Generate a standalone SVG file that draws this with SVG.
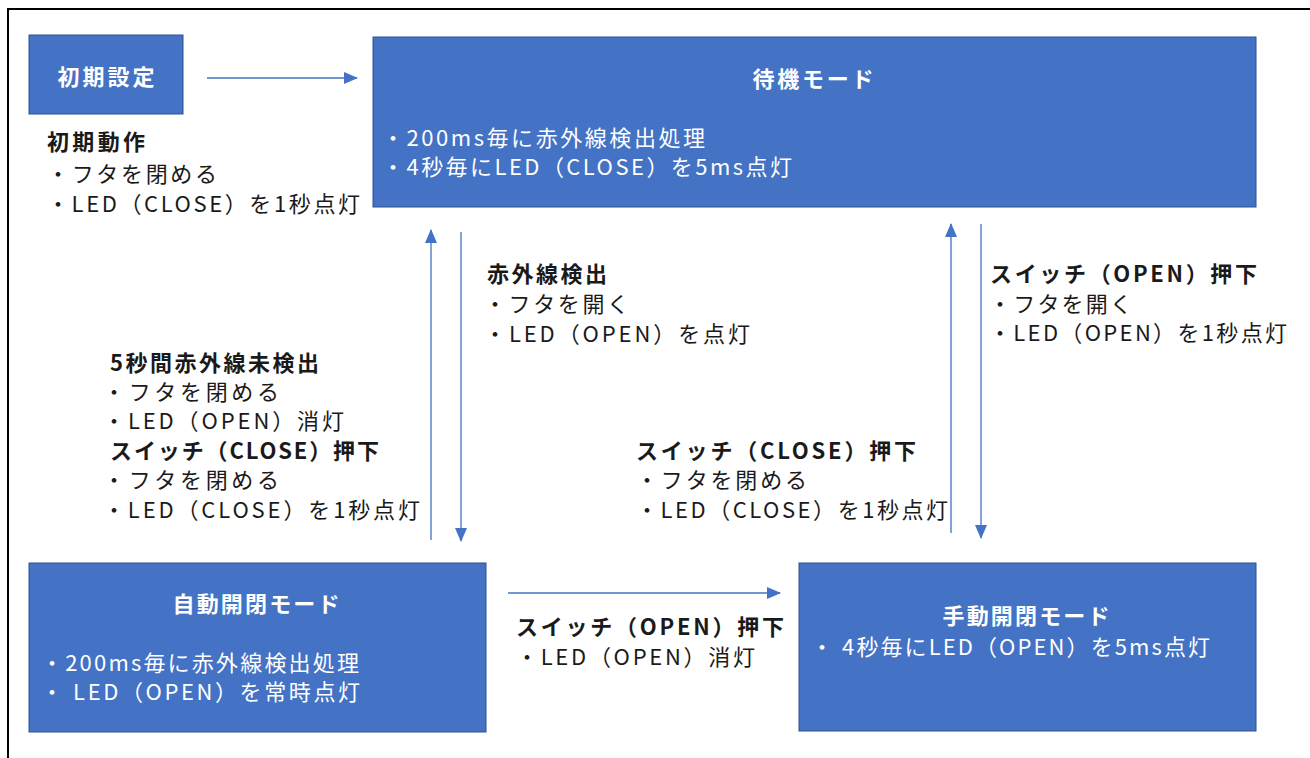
<svg xmlns="http://www.w3.org/2000/svg" width="1310" height="758" viewBox="0 0 1310 758">
<style>
.box{fill:#4472C4;stroke:#2F528F;stroke-width:1}
.t{font-family:"Noto Sans CJK JP","Liberation Sans",sans-serif;font-size:22px;dominant-baseline:central}
.w{fill:#ffffff}
.k{fill:#1a1a1a}
.b{font-weight:bold}
.mid{text-anchor:middle}
.c{stroke:#4472C4;stroke-width:1.3;fill:none;marker-end:url(#ah)}
</style>
<defs>
<marker id="ah" viewBox="0 0 14 12" refX="13" refY="6" markerWidth="14" markerHeight="12" markerUnits="userSpaceOnUse" orient="auto">
<path d="M0,0 L14,6 L0,12 Z" fill="#4472C4"/>
</marker>
</defs>
<rect width="1310" height="758" fill="#ffffff"/>
<path d="M8,758 L8,9 L1310,9" fill="none" stroke="#000000" stroke-width="2"/>

<g id="connectors">
<line class="c" x1="207" y1="78" x2="357" y2="78"/>
<line class="c" x1="431" y1="540" x2="431" y2="230"/>
<line class="c" x1="461" y1="232" x2="461" y2="541"/>
<line class="c" x1="951" y1="533" x2="951" y2="224"/>
<line class="c" x1="981" y1="224" x2="981" y2="538"/>
<line class="c" x1="508" y1="593" x2="780" y2="593"/>
</g>

<g id="init">
<rect class="box" x="29" y="35" width="154" height="79"/>
<text class="t w b mid" x="106" y="75" textLength="97" lengthAdjust="spacing">初期設定</text>
</g>

<g id="standby">
<rect class="box" x="373" y="37" width="883" height="170"/>
<text class="t w b mid" x="813" y="77" textLength="121" lengthAdjust="spacing">待機モード</text>
<text class="t w" x="382" y="136" textLength="323" lengthAdjust="spacing">・200ms毎に赤外線検出処理</text>
<text class="t w" x="382" y="165" textLength="410" lengthAdjust="spacing">・4秒毎にLED（CLOSE）を5ms点灯</text>
</g>

<g id="auto">
<rect class="box" x="29" y="563" width="457" height="169"/>
<text class="t w b mid" x="256" y="602" textLength="167" lengthAdjust="spacing">自動開閉モード</text>
<text class="t w" x="41" y="661" textLength="318" lengthAdjust="spacing">・200ms毎に赤外線検出処理</text>
<text class="t w" x="41" y="690" textLength="319" lengthAdjust="spacing">・ LED（OPEN）を常時点灯</text>
</g>

<g id="manual">
<rect class="box" x="799" y="563" width="457" height="168"/>
<text class="t w b mid" x="1026" y="614" textLength="167" lengthAdjust="spacing">手動開閉モード</text>
<text class="t w" x="811" y="645" textLength="399" lengthAdjust="spacing">・ 4秒毎にLED（OPEN）を5ms点灯</text>
</g>

<g id="label-init">
<text class="t k b" x="47" y="140" textLength="98" lengthAdjust="spacing">初期動作</text>
<text class="t k" x="47" y="172" textLength="170" lengthAdjust="spacing">・フタを閉める</text>
<text class="t k" x="47" y="202" textLength="313" lengthAdjust="spacing">・LED（CLOSE）を1秒点灯</text>
</g>

<g id="label-ir">
<text class="t k b" x="487" y="272" textLength="120" lengthAdjust="spacing">赤外線検出</text>
<text class="t k" x="484" y="302" textLength="145" lengthAdjust="spacing">・フタを開く</text>
<text class="t k" x="484" y="332" textLength="266" lengthAdjust="spacing">・LED（OPEN）を点灯</text>
</g>

<g id="label-open-top">
<text class="t k b" x="990" y="272" textLength="267" lengthAdjust="spacing">スイッチ（OPEN）押下</text>
<text class="t k" x="989" y="302" textLength="143" lengthAdjust="spacing">・フタを開く</text>
<text class="t k" x="989" y="331" textLength="298" lengthAdjust="spacing">・LED（OPEN）を1秒点灯</text>
</g>

<g id="label-left">
<text class="t k b" x="110" y="361" textLength="209" lengthAdjust="spacing">5秒間赤外線未検出</text>
<text class="t k" x="103" y="390" textLength="176" lengthAdjust="spacing">・フタを閉める</text>
<text class="t k" x="103" y="419" textLength="241" lengthAdjust="spacing">・LED（OPEN）消灯</text>
<text class="t k b" x="110" y="449" textLength="269" lengthAdjust="spacing">スイッチ（CLOSE）押下</text>
<text class="t k" x="103" y="478" textLength="176" lengthAdjust="spacing">・フタを閉める</text>
<text class="t k" x="103" y="508" textLength="317" lengthAdjust="spacing">・LED（CLOSE）を1秒点灯</text>
</g>

<g id="label-close-mid">
<text class="t k b" x="636" y="449" textLength="280" lengthAdjust="spacing">スイッチ（CLOSE）押下</text>
<text class="t k" x="636" y="478" textLength="171" lengthAdjust="spacing">・フタを閉める</text>
<text class="t k" x="636" y="508" textLength="312" lengthAdjust="spacing">・LED（CLOSE）を1秒点灯</text>
</g>

<g id="label-open-bottom">
<text class="t k b" x="516" y="625" textLength="268" lengthAdjust="spacing">スイッチ（OPEN）押下</text>
<text class="t k" x="516" y="655" textLength="239" lengthAdjust="spacing">・LED（OPEN）消灯</text>
</g>
</svg>
